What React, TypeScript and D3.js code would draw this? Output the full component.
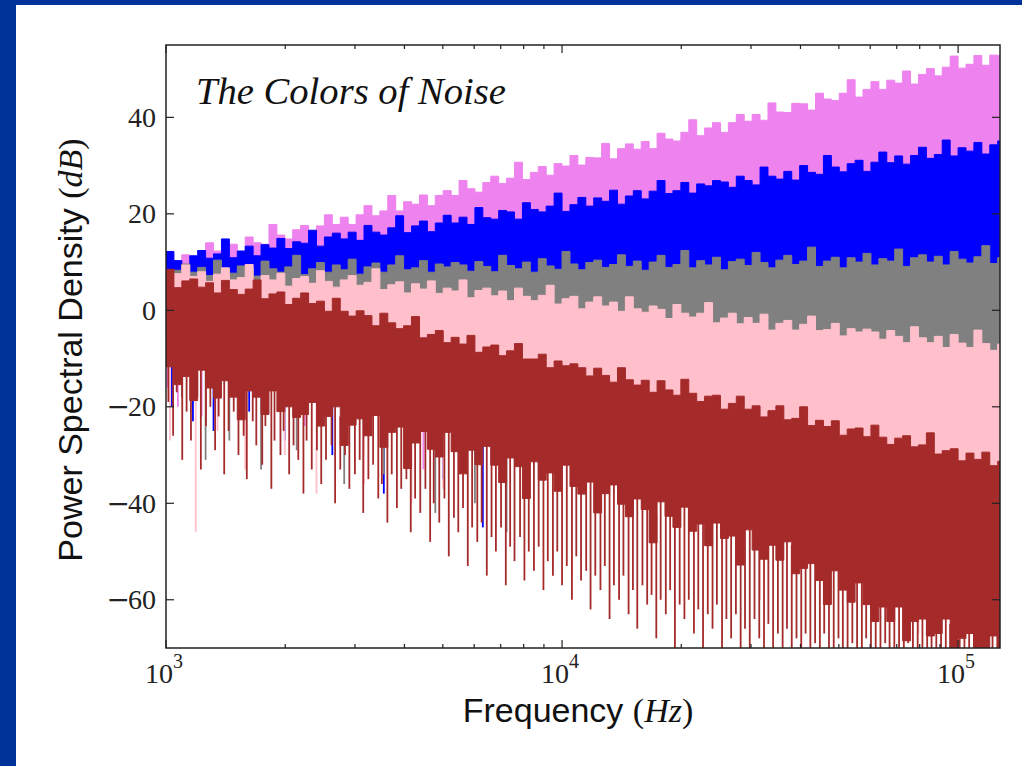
import React from 'react';
import * as d3 from 'd3';

// ---------- data ----------
// log10(frequency / Hz) of the plotted bins
const LOG_F = [
  3.00, 3.02, 3.04, 3.06, 3.08, 3.10, 3.12, 3.14, 3.16, 3.18,
  3.20, 3.22, 3.24, 3.26, 3.28, 3.30, 3.32, 3.34, 3.36, 3.38,
  3.40, 3.42, 3.44, 3.46, 3.48, 3.50, 3.52, 3.54, 3.56, 3.58,
  3.60, 3.62, 3.64, 3.66, 3.68, 3.70, 3.72, 3.74, 3.76, 3.78,
  3.80, 3.82, 3.84, 3.86, 3.88, 3.90, 3.92, 3.94, 3.96, 3.98,
  4.00, 4.02, 4.04, 4.06, 4.08, 4.10, 4.12, 4.14, 4.16, 4.18,
  4.20, 4.22, 4.24, 4.26, 4.28, 4.30, 4.32, 4.34, 4.36, 4.38,
  4.40, 4.42, 4.44, 4.46, 4.48, 4.50, 4.52, 4.54, 4.56, 4.58,
  4.60, 4.62, 4.64, 4.66, 4.68, 4.70, 4.72, 4.74, 4.76, 4.78,
  4.80, 4.82, 4.84, 4.86, 4.88, 4.90, 4.92, 4.94, 4.96, 4.98,
  5.00, 5.02, 5.04, 5.06, 5.08, 5.10, 5.12,
];

const FREQ_DOMAIN = [1000, 127600];
const PSD_DOMAIN = [-70, 55];
const Y_TICKS = [-60, -40, -20, 0, 20, 40];

// upper envelopes (dB)
const VIOLET_TOP = [
  10.0, 9.1, 11.5, 10.8, 10.1, 14.0, 12.3, 11.9, 13.7, 12.0,
  15.2, 14.0, 13.7, 17.8, 15.6, 14.8, 16.7, 17.6, 15.5, 17.5,
  19.8, 17.8, 19.3, 17.8, 19.8, 21.7, 19.6, 20.6, 23.8, 20.6,
  22.5, 22.0, 23.9, 21.7, 23.8, 24.8, 23.8, 26.9, 25.2, 24.5,
  26.5, 27.8, 26.3, 27.4, 30.7, 27.1, 28.6, 29.8, 28.0, 30.4,
  29.9, 32.1, 30.1, 31.7, 31.6, 34.6, 31.4, 33.5, 34.5, 33.4,
  35.0, 33.5, 36.7, 35.5, 35.1, 36.9, 39.5, 36.2, 37.8, 38.9,
  36.9, 38.9, 40.6, 39.2, 40.6, 39.4, 43.0, 41.1, 41.0, 42.9,
  42.8, 41.5, 45.0, 43.8, 43.5, 45.0, 47.8, 44.2, 45.8, 47.4,
  45.8, 47.7, 47.1, 49.6, 46.9, 48.9, 50.1, 48.6, 50.4, 52.7,
  50.2, 51.0, 52.8, 50.8, 52.9, 52.8, 54.0,
];
const BLUE_TOP = [
  12.2, 10.3, 9.5, 11.3, 12.4, 10.8, 11.7, 14.8, 10.9, 12.3,
  13.3, 11.3, 13.6, 12.9, 14.9, 12.8, 14.2, 13.9, 16.6, 13.3,
  15.2, 16.0, 14.8, 16.2, 14.5, 17.6, 16.2, 15.6, 17.1, 19.6,
  16.1, 17.5, 18.5, 16.3, 18.1, 19.7, 18.1, 19.3, 17.8, 21.3,
  19.2, 18.9, 20.7, 20.4, 18.9, 22.3, 20.9, 20.4, 21.6, 24.3,
  20.5, 21.9, 23.4, 21.6, 23.3, 22.6, 24.9, 22.0, 23.7, 24.8,
  23.1, 24.7, 26.9, 24.2, 24.8, 26.5, 24.3, 26.2, 25.8, 26.9,
  26.6, 25.5, 27.8, 26.9, 26.0, 29.7, 27.8, 27.2, 28.8, 27.0,
  30.0, 28.6, 28.2, 32.1, 29.7, 28.7, 30.4, 31.1, 28.8, 30.7,
  32.8, 30.6, 32.0, 30.3, 32.1, 33.8, 31.5, 32.3, 35.3, 32.0,
  33.7, 33.0, 34.8, 32.4, 34.3, 35.1, 33.9,
];
const GRAY_TOP = [
  6.7, 8.3, 9.6, 7.9, 8.9, 7.2, 10.4, 8.2, 7.7, 9.2,
  8.7, 7.1, 10.2, 8.6, 7.9, 9.0, 11.4, 7.4, 8.6, 9.9,
  7.9, 9.4, 8.4, 10.6, 7.5, 9.0, 9.8, 7.9, 9.4, 11.3,
  8.4, 8.8, 10.3, 7.9, 9.6, 9.0, 9.9, 9.4, 8.1, 10.1,
  9.1, 8.0, 11.4, 9.3, 8.6, 10.0, 7.9, 10.7, 9.2, 8.5,
  12.2, 9.6, 8.4, 9.9, 10.4, 8.9, 9.5, 11.5, 9.1, 10.2,
  8.3, 10.0, 11.4, 8.9, 9.5, 12.4, 8.8, 10.3, 9.4, 11.0,
  8.4, 10.1, 10.6, 9.3, 12.0, 9.9, 8.8, 10.4, 11.4, 9.5,
  10.2, 13.1, 9.1, 10.2, 11.0, 8.8, 10.9, 10.0, 11.8, 9.4,
  10.7, 10.2, 12.7, 9.1, 10.9, 11.5, 10.0, 11.2, 9.4, 12.2,
  10.6, 9.8, 11.1, 13.4, 9.7, 10.9, 11.6,
];
const PINK_TOP = [
  6.1, 7.6, 9.4, 7.0, 8.0, 6.0, 7.5, 8.8, 6.3, 6.8,
  9.5, 5.8, 7.2, 6.3, 7.7, 5.0, 6.6, 7.0, 5.6, 8.2,
  6.0, 4.8, 6.3, 7.2, 5.2, 5.8, 8.6, 4.3, 5.3, 5.9,
  3.6, 5.5, 4.4, 6.1, 3.5, 4.6, 4.0, 6.3, 2.6, 4.1,
  4.6, 3.0, 4.0, 2.0, 4.6, 2.9, 2.0, 3.1, 5.2, 1.3,
  2.4, 2.9, 0.3, 1.7, 2.8, 0.9, 1.7, -0.2, 2.8, 0.3,
  -0.4, 0.9, 0.2, -1.7, 1.2, -0.6, -1.4, -0.6, 1.6, -2.6,
  -1.6, -0.6, -2.8, -1.5, -2.7, -0.8, -4.1, -2.7, -2.1, -4.1,
  -2.9, -1.2, -4.2, -4.0, -2.7, -5.3, -3.8, -4.5, -3.9, -4.5,
  -6.0, -4.2, -5.4, -6.7, -3.4, -5.7, -6.7, -5.4, -7.7, -5.0,
  -6.8, -7.7, -4.1, -6.9, -8.3, -7.0, -6.7,
];
const BROWN_TOP = [
  8.5, 4.7, 6.1, 6.5, 4.8, 5.7, 3.6, 6.2, 4.3, 3.3,
  4.4, 6.3, 2.4, 3.4, 3.8, 1.2, 2.5, 3.6, 1.4, 1.9,
  -0.2, 2.5, -0.2, -1.2, -0.1, -1.1, -3.2, -0.6, -2.6, -3.8,
  -3.2, -1.3, -5.7, -5.0, -4.2, -6.7, -5.6, -7.0, -5.2, -8.7,
  -7.6, -7.2, -9.4, -8.4, -6.9, -10.1, -10.1, -9.1, -11.9, -10.5,
  -11.5, -11.1, -11.9, -13.6, -12.0, -13.5, -14.9, -11.9, -14.4, -15.5,
  -14.5, -17.0, -14.6, -16.5, -17.6, -14.3, -17.2, -18.9, -17.8, -17.6,
  -20.5, -19.3, -17.8, -20.5, -19.8, -22.1, -20.8, -19.8, -22.7, -22.4,
  -20.0, -23.9, -22.8, -24.1, -22.9, -25.9, -24.6, -24.4, -26.2, -23.8,
  -26.3, -27.8, -26.5, -26.0, -28.3, -27.9, -25.4, -29.8, -29.1, -28.7,
  -31.2, -29.6, -30.9, -29.4, -32.2, -31.3, -32.2,
];
// dense lower edge of the brown trace (dB)
const BROWN_BOTTOM = [
  -11.7, -15.4, -13.7, -18.7, -12.4, -16.1, -18.2, -14.6, -18.0, -22.7,
  -16.7, -18.0, -21.6, -16.7, -21.0, -20.0, -22.2, -21.6, -19.1, -24.0,
  -22.0, -20.0, -28.0, -23.8, -22.5, -26.0, -21.8, -28.4, -25.3, -24.2,
  -32.8, -27.5, -25.1, -28.8, -30.4, -25.3, -29.3, -33.9, -29.0, -32.0,
  -28.2, -32.1, -35.7, -30.6, -32.4, -39.0, -31.4, -35.2, -33.7, -37.5,
  -32.1, -36.5, -38.1, -35.6, -42.0, -38.0, -36.2, -40.2, -42.8, -39.1,
  -41.3, -48.2, -39.7, -42.7, -45.0, -40.8, -45.8, -44.3, -48.8, -44.1,
  -47.3, -46.8, -52.8, -45.5, -49.7, -51.6, -48.7, -51.8, -48.0, -54.6,
  -53.5, -52.5, -56.0, -61.0, -54.0, -58.0, -60.5, -56.5, -61.0, -64.5,
  -61.5, -64.5, -61.5, -68.5, -64.5, -64.0, -67.5, -67.0, -64.0, -71.0,
  -68.0, -67.0, -70.0, -71.9, -67.5, -70.5, -72.0,
];
// lower edges of the other traces: [log10 f, dB] (mostly hidden)
const VIOLET_FLOOR: [number, number][] = [[3, -8], [3.5, 0], [4, 8], [4.5, 16], [5.12, 24]];
const BLUE_FLOOR: [number, number][] = [[3, -9], [3.5, -8], [4, -5], [4.5, -2], [5.12, 2]];
const GRAY_FLOOR: [number, number][] = [[3, -10], [3.5, -14], [4, -18], [4.5, -22], [5.12, -24]];
const PINK_FLOOR: [number, number][] = [[3, -10], [3.5, -19], [4, -29], [4.5, -40], [5.12, -48]];

// deep single-bin dips: [log10 f, dB]
const VIOLET_DIPS: [number, number][] = [
  [3.004, -16], [3.03, -20], [3.09, -22], [3.2, -26], [3.35, -24], [3.5, -30], [3.65, -33],
];
const BLUE_DIPS: [number, number][] = [
  [3.015, -20], [3.068, -23], [3.12, -25], [3.21, -21], [3.3, -27], [3.42, -30],
  [3.55, -38], [3.7, -35], [3.8, -45],
];
const GRAY_DIPS: [number, number][] = [
  [3.04, -18], [3.1, -31], [3.16, -27], [3.24, -33], [3.33, -29], [3.45, -36],
  [3.55, -34], [3.68, -42], [3.78, -40], [3.86, -46],
];
const PINK_DIPS: [number, number][] = [
  [3.01, -27], [3.075, -46], [3.13, -25], [3.2, -33], [3.3, -30], [3.38, -38],
  [3.5, -36], [3.62, -40], [3.7, -37], [4.025, -55], [4.5, -60], [4.9, -67], [4.995, -68],
];
const BROWN_DIPS: [number, number][] = [
  [3.006, -19], [3.018, -26], [3.027, -17], [3.041, -31], [3.052, -21], [3.063, -27],
  [3.079, -18], [3.088, -33], [3.101, -24], [3.112, -20], [3.124, -29], [3.133, -22],
  [3.147, -34], [3.158, -25], [3.171, -21], [3.183, -30], [3.196, -26], [3.204, -35],
  [3.219, -23], [3.228, -28], [3.243, -32], [3.251, -24], [3.266, -37], [3.274, -27],
  [3.289, -30], [3.297, -25], [3.311, -34], [3.322, -28], [3.334, -31], [3.347, -38],
  [3.355, -27], [3.368, -33], [3.381, -29], [3.392, -36], [3.404, -31], [3.418, -28],
  [3.427, -40], [3.44, -33], [3.452, -30], [3.463, -37], [3.477, -34], [3.489, -31],
  [3.498, -42], [3.511, -35], [3.523, -32], [3.536, -39], [3.545, -36], [3.559, -44],
  [3.57, -34], [3.583, -41], [3.594, -37], [3.607, -35], [3.618, -46], [3.629, -39],
  [3.642, -42], [3.655, -37], [3.667, -48], [3.676, -40], [3.69, -44], [3.703, -39],
  [3.714, -51], [3.727, -43], [3.738, -46], [3.75, -41], [3.762, -53], [3.773, -45],
  [3.786, -48], [3.797, -44], [3.81, -55], [3.822, -47], [3.833, -50], [3.846, -45],
  [3.858, -57], [3.869, -49], [3.88, -52], [3.894, -47], [3.905, -56], [3.916, -50],
  [3.929, -54], [3.941, -49], [3.953, -58], [3.964, -52], [3.977, -55], [3.988, -50],
  [4.0, -57], [4.012, -53], [4.025, -60], [4.036, -51], [4.048, -56], [4.061, -54],
  [4.072, -62], [4.084, -55], [4.097, -58], [4.108, -53], [4.12, -64], [4.131, -57],
  [4.144, -60], [4.155, -55], [4.168, -63], [4.179, -58], [4.19, -66], [4.203, -57],
  [4.215, -61], [4.226, -59], [4.238, -68], [4.249, -60], [4.262, -63], [4.273, -58],
  [4.285, -70], [4.297, -61], [4.309, -64], [4.32, -60], [4.333, -67], [4.344, -62],
  [4.356, -70], [4.368, -63], [4.38, -66], [4.391, -61], [4.404, -70], [4.415, -64],
  [4.427, -68], [4.439, -63], [4.451, -70], [4.462, -66], [4.474, -70], [4.486, -64],
  [4.498, -68], [4.51, -70], [4.521, -65], [4.533, -70], [4.545, -67], [4.557, -70],
  [4.568, -66], [4.58, -70], [4.592, -68], [4.604, -70], [4.615, -67], [4.627, -70],
  [4.639, -69], [4.651, -70], [4.662, -67], [4.674, -70], [4.686, -70], [4.698, -68],
  [4.709, -70], [4.721, -70], [4.733, -69], [4.745, -70], [4.757, -70], [4.768, -68],
  [4.78, -70], [4.792, -70], [4.804, -70], [4.816, -69], [4.827, -70], [4.839, -70],
  [4.851, -70], [4.863, -70], [4.874, -69], [4.886, -70], [4.898, -70], [4.91, -70],
  [4.922, -70], [4.933, -70], [4.945, -70], [4.957, -70], [4.969, -70], [4.98, -70],
  [4.992, -70], [5.004, -70], [5.016, -70], [5.028, -70], [5.04, -70], [5.051, -70],
  [5.063, -70], [5.075, -70], [5.087, -70], [5.099, -70],
];

const SERIES = [
  { name: 'violet', color: '#EE82EE', top: VIOLET_TOP, floor: VIOLET_FLOOR, dips: VIOLET_DIPS },
  { name: 'blue', color: '#0000FF', top: BLUE_TOP, floor: BLUE_FLOOR, dips: BLUE_DIPS },
  { name: 'white', color: '#808080', top: GRAY_TOP, floor: GRAY_FLOOR, dips: GRAY_DIPS },
  { name: 'pink', color: '#FFC0CB', top: PINK_TOP, floor: PINK_FLOOR, dips: PINK_DIPS },
  { name: 'brown', color: '#A52A2A', top: BROWN_TOP, bottom: BROWN_BOTTOM, dips: BROWN_DIPS },
];

// ---------- layout ----------
const W = 1022;
const H = 766;
const PL = 166, PR = 1000, PT = 45, PB = 648;
const SERIF = "'Liberation Serif', 'Times New Roman', serif";
const SANS = "'Liberation Sans', Arial, sans-serif";
const INK = '#222';

export default function App() {
  const x = d3.scaleLog().domain(FREQ_DOMAIN).range([PL, PR]);
  const y = d3.scaleLinear().domain(PSD_DOMAIN).range([PB, PT]);
  const fx = (l: number) => x(Math.pow(10, l));

  const bands = SERIES.map((s: any) => {
    let floorAt: (i: number) => number;
    if (s.bottom) {
      floorAt = (i) => s.bottom[i];
    } else {
      const fs = d3.scaleLinear()
        .domain(s.floor.map((k: number[]) => k[0]))
        .range(s.floor.map((k: number[]) => k[1]));
      floorAt = (i) => fs(LOG_F[i]);
    }
    const area = d3.area<number>()
      .x((_, i) => fx(LOG_F[i]))
      .y1((v) => y(v))
      .y0((_, i) => y(floorAt(i)))
      .curve(d3.curveStepAfter);
    const dips = s.dips.map(([l, v]: [number, number]) => {
      const idx = Math.max(0, Math.min(LOG_F.length - 1, d3.bisectRight(LOG_F, l) - 1));
      return { x: fx(l), y1: y(Math.min(s.top[idx], floorAt(idx) + 6)), y2: y(v) };
    });
    return { name: s.name, color: s.color, d: area(s.top) || '', dips };
  });

  const xTicks = x.ticks().filter((t) => t >= FREQ_DOMAIN[0] && t <= FREQ_DOMAIN[1]);
  const isMajor = (t: number) => Math.abs(Math.log10(t) - Math.round(Math.log10(t))) < 1e-9;

  return (
    <div style={{ position: 'fixed', left: 0, top: 0 }}>
      <svg width={W} height={H} viewBox={`0 0 ${W} ${H}`} style={{ display: 'block' }}>
        <rect x={0} y={0} width={W} height={H} fill="#ffffff" />
        <rect x={0} y={0} width={W} height={5} fill="#003399" />
        <rect x={0} y={0} width={16} height={H} fill="#003399" />

        <defs>
          <clipPath id="plotClip">
            <rect x={PL} y={PT} width={PR - PL} height={PB - PT} />
          </clipPath>
        </defs>

        <g clipPath="url(#plotClip)">
          {bands.map((b) => (
            <g key={b.name}>
              <path d={b.d} fill={b.color} stroke={b.color} strokeWidth={1} />
              {b.dips.map((p, i) => (
                <line key={i} x1={p.x} x2={p.x} y1={p.y1} y2={p.y2} stroke={b.color} strokeWidth={1.8} />
              ))}
            </g>
          ))}
        </g>

        {/* frame */}
        <rect x={PL} y={PT} width={PR - PL} height={PB - PT} fill="none" stroke={INK} strokeWidth={1.5} />

        {/* x ticks */}
        {xTicks.map((t) => {
          const len = isMajor(t) ? 8 : 4;
          const px = x(t);
          return (
            <g key={'xt' + t}>
              <line x1={px} x2={px} y1={PB} y2={PB - len} stroke={INK} strokeWidth={1.2} />
              <line x1={px} x2={px} y1={PT} y2={PT + len} stroke={INK} strokeWidth={1.2} />
            </g>
          );
        })}
        {xTicks.filter(isMajor).map((t) => (
          <text key={'xl' + t} x={x(t) - 2} y={683} textAnchor="middle" fontFamily={SERIF} fontSize={28} fill={INK}>
            10<tspan dy={-15} fontSize={20}>{Math.round(Math.log10(t))}</tspan>
          </text>
        ))}

        {/* y ticks */}
        {Y_TICKS.map((t) => (
          <g key={'yt' + t}>
            <line x1={PL} x2={PL + 8} y1={y(t)} y2={y(t)} stroke={INK} strokeWidth={1.2} />
            <line x1={PR} x2={PR - 8} y1={y(t)} y2={y(t)} stroke={INK} strokeWidth={1.2} />
            <text x={156} y={y(t) + 9.5} textAnchor="end" fontFamily={SERIF} fontSize={28} fill={INK}>
              {t < 0 ? (
                <>
                  <tspan fontFamily="'DejaVu Serif', serif">{'\u2212'}</tspan>
                  <tspan dx={-2}>{Math.abs(t)}</tspan>
                </>
              ) : (
                String(t)
              )}
            </text>
          </g>
        ))}

        {/* title */}
        <text x={196} y={104} fontFamily={SERIF} fontStyle="italic" fontSize={37} fill="#111" textLength={310} lengthAdjust="spacingAndGlyphs">
          The Colors of Noise
        </text>

        {/* x label */}
        <text x={578} y={722} textAnchor="middle" fontSize={34} fill="#111">
          <tspan fontFamily={SANS}>Frequency </tspan>
          <tspan fontFamily={SERIF}>(</tspan>
          <tspan fontFamily={SERIF} fontStyle="italic">Hz</tspan>
          <tspan fontFamily={SERIF}>)</tspan>
        </text>

        {/* y label */}
        <text transform={`translate(82,350) rotate(-90)`} textAnchor="middle" fontSize={34} fill="#111">
          <tspan fontFamily={SANS}>Power Spectral Density </tspan>
          <tspan fontFamily={SERIF}>(</tspan>
          <tspan fontFamily={SERIF} fontStyle="italic">dB</tspan>
          <tspan fontFamily={SERIF}>)</tspan>
        </text>
      </svg>
    </div>
  );
}
